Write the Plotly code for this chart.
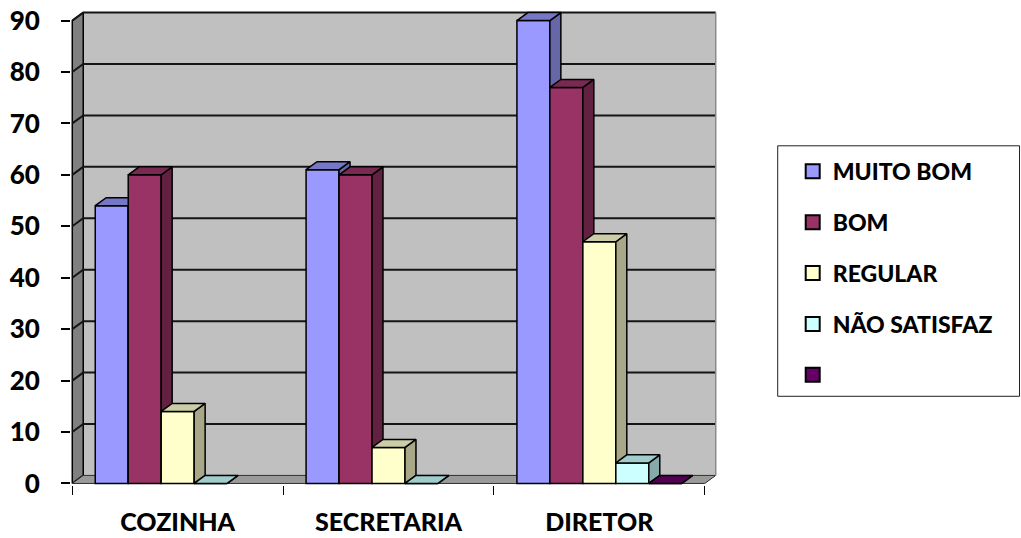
import plotly.graph_objects as go

# ---- data -------------------------------------------------------------
CATEGORIES = ["COZINHA", "SECRETARIA", "DIRETOR"]
SERIES = ["MUITO BOM", "BOM", "REGULAR", "NÃO SATISFAZ", " "]
MUITO_BOM = [54, 61, 90]
BOM = [60, 60, 77]
REGULAR = [14, 7, 47]
NAO_SATISFAZ = [0, 0, 4]
SEM_NOME = [None, None, 0]
Y_TICKS = [0, 10, 20, 30, 40, 50, 60, 70, 80, 90]

VALUES = [MUITO_BOM, BOM, REGULAR, NAO_SATISFAZ, SEM_NOME]

# ---- styling ----------------------------------------------------------
FRONT = ["#9999FF", "#993366", "#FFFFCC", "#CCFFFF", "#660066"]
TOP = ["#7777C8", "#7A2952", "#CCCCA6", "#A0CCCC", "#520052"]
SIDE = ["#6666A8", "#632142", "#A8A888", "#86AAAA", "#440044"]
WALL_BACK = "#C0C0C0"
WALL_LEFT = "#808080"
FLOOR = "#9A9A9A"
FONT = dict(family="Lato", size=25, color="black", weight=900)

W, H = 1021, 538
BAR_W = 0.1564          # width of one bar, in category units
DX, DY = 0.052, 1.56    # oblique depth offset (category units, value units)
Y_MAX = Y_TICKS[-1]
PADX, PADY = 0.006, 0.3

# front plane placement on the page (pixels)
FRONT_LEFT, FRONT_RIGHT = 72, 705
FRONT_BOTTOM, FRONT_TOP = 483, 21

n_cat = len(CATEGORIES)
x_lo, x_hi = -0.5, n_cat - 0.5
sx = (FRONT_RIGHT - FRONT_LEFT) / (x_hi - x_lo)
sy = (FRONT_BOTTOM - FRONT_TOP) / Y_MAX
x_range = [x_lo - PADX, x_hi + DX + PADX]
y_range = [-PADY, Y_MAX + DY + PADY]
m_l = FRONT_LEFT - PADX * sx
m_w = (x_range[1] - x_range[0]) * sx
m_r = W - m_l - m_w
m_t = FRONT_TOP - (DY + PADY) * sy
m_h = (y_range[1] - y_range[0]) * sy
m_b = H - m_t - m_h


def paper_x(px):
    return (px - m_l) / m_w


def paper_y(py):
    return (m_t + m_h - py) / m_h


def polys(shapes):
    xs, ys = [], []
    for pts in shapes:
        for (a, b) in pts + [pts[0]]:
            xs.append(a)
            ys.append(b)
        xs.append(None)
        ys.append(None)
    return xs, ys


fig = go.Figure()

# ---- walls and floor (main axes) -------------------------------------
bx, by = polys([[(x_lo + DX, DY), (x_hi + DX, DY), (x_hi + DX, Y_MAX + DY), (x_lo + DX, Y_MAX + DY)]])
fig.add_trace(go.Scatter(x=bx, y=by, fill="toself", fillcolor=WALL_BACK, mode="lines",
                         line=dict(width=0), hoverinfo="skip", showlegend=False))
lx, ly = polys([[(x_lo, 0), (x_lo + DX, DY), (x_lo + DX, Y_MAX + DY), (x_lo, Y_MAX)]])
fig.add_trace(go.Scatter(x=lx, y=ly, fill="toself", fillcolor=WALL_LEFT, mode="lines",
                         line=dict(width=1.5, color="black"), hoverinfo="skip", showlegend=False))
fx, fy = polys([[(x_lo, 0), (x_hi, 0), (x_hi + DX, DY), (x_lo + DX, DY)]])
fig.add_trace(go.Scatter(x=fx, y=fy, fill="toself", fillcolor=FLOOR, mode="lines",
                         line=dict(width=1, color="#303030"), hoverinfo="skip", showlegend=False))

# gridlines: diagonal across the left wall, then along the back wall
gx, gy = [], []
for v in Y_TICKS[1:]:
    gx += [x_lo, x_lo + DX, x_hi + DX, None]
    gy += [v, v + DY, v + DY, None]
fig.add_trace(go.Scatter(x=gx, y=gy, mode="lines", line=dict(width=2, color="#151515"),
                         hoverinfo="skip", showlegend=False))
fig.add_trace(go.Scatter(x=[x_hi + DX, x_hi + DX], y=[DY, Y_MAX + DY], mode="lines",
                         line=dict(width=1.5, color="#8A8A8A"), hoverinfo="skip", showlegend=False))

# ---- bars: one overlaid axis pair per series so later series paint on top
positions = list(range(n_cat))
group_w = BAR_W * len(SERIES)
for s, (name, vals) in enumerate(zip(SERIES, VALUES)):
    k = s + 2
    xa, ya = f"x{k}", f"y{k}"
    offset = -group_w / 2 + s * BAR_W
    sides, tops = [], []
    for p, v in zip(positions, vals):
        if v is None:
            continue
        x0 = p + offset
        x1 = x0 + BAR_W
        sides.append([(x1, 0), (x1, v), (x1 + DX, v + DY), (x1 + DX, DY)])
        tops.append([(x0, v), (x1, v), (x1 + DX, v + DY), (x0 + DX, v + DY)])
    fig.add_trace(go.Bar(x=positions, y=vals, width=BAR_W, offset=offset,
                         marker=dict(color=FRONT[s], line=dict(color="black", width=1.5)),
                         xaxis=xa, yaxis=ya, showlegend=False, hoverinfo="skip"))
    sxs, sys_ = polys(sides)
    fig.add_trace(go.Scatter(x=sxs, y=sys_, fill="toself", fillcolor=SIDE[s], mode="lines",
                             line=dict(color="black", width=1.5), xaxis=xa, yaxis=ya,
                             hoverinfo="skip", showlegend=False))
    txs, tys = polys(tops)
    fig.add_trace(go.Scatter(x=txs, y=tys, fill="toself", fillcolor=TOP[s], mode="lines",
                             line=dict(color="black", width=1.5), xaxis=xa, yaxis=ya,
                             hoverinfo="skip", showlegend=False))
    # legend swatch
    fig.add_trace(go.Scatter(x=[None], y=[None], mode="markers", name=name, legendgroup=name,
                             marker=dict(symbol="square", size=14, color=FRONT[s],
                                         line=dict(color="black", width=2))))

layout_axes = {}
for s in range(len(SERIES)):
    k = s + 2
    layout_axes[f"xaxis{k}"] = dict(overlaying="x", anchor=f"y{k}", range=x_range,
                                    visible=(s == 0), showgrid=False, zeroline=False,
                                    showline=False, showticklabels=False, automargin=False,
                                    tickmode="array",
                                    tickvals=[x_lo + i for i in range(n_cat + 1)],
                                    ticks="outside", ticklen=9, tickwidth=1, tickcolor="black")
    layout_axes[f"yaxis{k}"] = dict(overlaying="y", anchor=f"x{k}", range=y_range,
                                    visible=False, automargin=False)

fig.update_layout(
    width=W, height=H, autosize=False,
    margin=dict(l=m_l, r=m_r, t=m_t, b=m_b, pad=0, autoexpand=False),
    paper_bgcolor="white", plot_bgcolor="white",
    xaxis=dict(range=x_range, tickmode="array", tickvals=positions, ticktext=CATEGORIES,
               ticks="", showgrid=False, zeroline=False, showline=False, automargin=False,
               tickfont=FONT, ticklabelstandoff=20),
    yaxis=dict(range=y_range, tickmode="array", tickvals=Y_TICKS, ticks="outside",
               ticklen=9, tickwidth=1.5, tickcolor="black", showgrid=False, automargin=False,
               zeroline=False, showline=False, tickfont=dict(FONT, size=26),
               ticklabelstandoff=16),
    legend=dict(x=paper_x(793), y=paper_y(150), xanchor="left", yanchor="top",
                font=dict(FONT, size=23), bgcolor="rgba(0,0,0,0)", borderwidth=0,
                traceorder="grouped", tracegroupgap=18),
    shapes=[dict(type="rect", xref="paper", yref="paper",
                 x0=paper_x(778), x1=paper_x(1020), y0=paper_y(396), y1=paper_y(146),
                 line=dict(color="#202020", width=1), fillcolor="white", layer="below")],
    showlegend=True,
    **layout_axes,
)

fig.write_html("out.html")
